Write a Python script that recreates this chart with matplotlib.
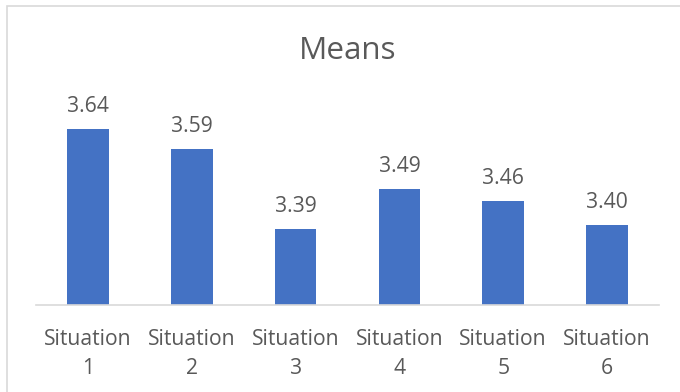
import matplotlib.pyplot as plt
from matplotlib.patches import Rectangle

## Means per situation, Excel-style column chart
categories = ["Situation\n1", "Situation\n2", "Situation\n3",
              "Situation\n4", "Situation\n5", "Situation\n6"]
means = [3.64, 3.59, 3.39, 3.49, 3.46, 3.40]
value_labels = ["3.64", "3.59", "3.39", "3.49", "3.46", "3.40"]

plt.rcParams['font.family'] = ['Open Sans', 'DejaVu Sans']
text_col = '#595959'
bar_col = '#4472C4'

fig = plt.figure(figsize=(6.8, 3.92), dpi=100)
ax = fig.add_axes([36/680, (392-305)/392, (659-36)/680, 200/392])

x = range(len(categories))
bars = ax.bar(x, means, width=0.4, color=bar_col)

ax.set_ylim(3.2, 3.7)
ax.set_xlim(-0.5, len(categories) - 0.5)
ax.set_yticks([])
ax.set_xticks(list(x))
ax.set_xticklabels(categories, fontsize=15.2, color=text_col, linespacing=1.45)
ax.tick_params(axis='x', length=0, pad=17.5)

for side in ['top', 'left', 'right']:
    ax.spines[side].set_visible(False)
ax.spines['bottom'].set_color('#D9D9D9')
ax.spines['bottom'].set_linewidth(1.2)

for b, lab in zip(bars, value_labels):
    ax.annotate(lab, (b.get_x() + b.get_width()/2, b.get_height()),
                xytext=(0, 12), textcoords='offset points',
                ha='center', va='baseline', fontsize=15.2,
                color=text_col, annotation_clip=False)

fig.text(348/680, 1 - 51/392, "Means", ha='center', va='center',
         fontsize=22.6, color=text_col)

# chart area border (only left/top visible in the crop)
fig.patches.append(Rectangle((7/680, -0.1), 2, 1 - 6/392 + 0.1,
                             transform=fig.transFigure, fill=False,
                             edgecolor='#D9D9D9', linewidth=1.2))

fig.savefig('out.png', dpi=100)
